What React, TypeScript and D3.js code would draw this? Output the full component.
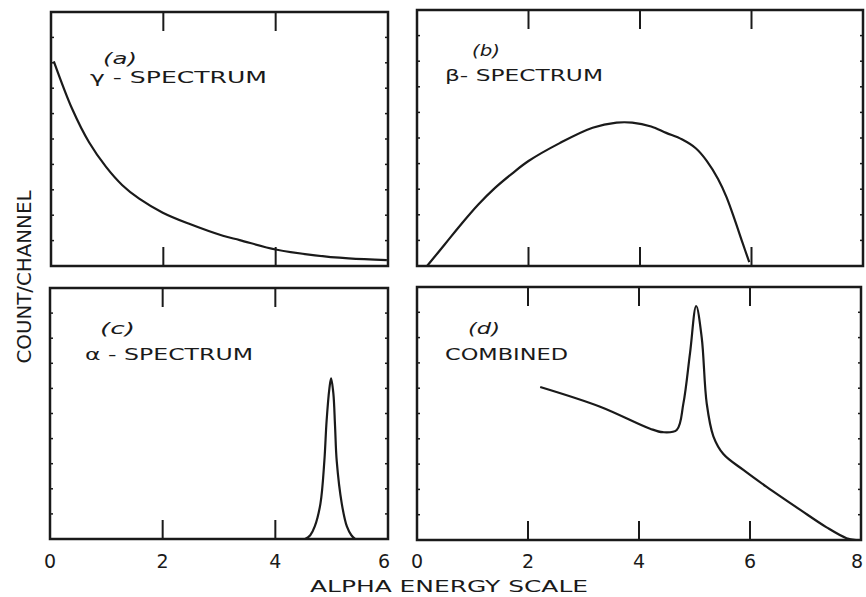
import React, { useEffect, useRef } from "react";
import * as d3 from "d3";

// values (x = alpha energy, y = % of panel height)
const gammaSpectrum: [number, number][] = [
  [0.05, 80.6], [0.38, 61.7], [0.68, 48.6], [0.98, 39], [1.27, 31.8],
  [1.57, 26.5], [1.99, 21], [2.46, 16.6], [3.06, 11.9], [3.36, 10.2],
  [4.0, 6.5], [4.7, 4.2], [5.3, 3], [5.98, 2.3],
];

const betaSpectrum: [number, number][] = [
  [0.18, 0], [0.5, 8.5], [0.8, 16.5], [1.1, 24], [1.4, 30.5], [1.7, 36],
  [2.0, 41], [2.56, 48], [3.15, 54], [3.58, 56], [3.86, 56], [4.2, 54.5],
  [4.47, 52], [4.75, 49.5], [5.0, 46], [5.2, 41], [5.4, 34], [5.55, 27],
  [5.7, 18], [5.84, 9], [5.96, 1.5],
];

const alphaSpectrum: [number, number][] = [
  [4.53, 0], [4.62, 1.5], [4.7, 5], [4.8, 14], [4.87, 31], [4.91, 47],
  [4.96, 60], [4.99, 64], [5.03, 58], [5.06, 45], [5.09, 31], [5.18, 14],
  [5.27, 5], [5.35, 1.5], [5.42, 0],
];

const combinedSpectrum: [number, number][] = [
  [2.22, 60.5], [3.3, 52.7], [4.2, 44], [4.43, 42.6], [4.68, 43.5],
  [4.8, 54], [4.92, 74], [5.03, 92.5], [5.13, 80], [5.22, 54], [5.34, 41],
  [5.52, 34], [5.88, 27.7], [6.3, 21], [6.9, 12], [7.38, 5], [7.74, 0.7],
  [7.91, 0],
];

const leftTicks = [0, 2, 4, 6];
const rightTicks = [0, 2, 4, 6, 8];

const panels = [
  { id: "a", data: gammaSpectrum, xMax: 6, box: [51, 12, 388, 266], tag: "(a)", name: "γ - SPECTRUM",
    tagPos: [103, 64, 34], namePos: [90, 83, 177], ticks: null },
  { id: "b", data: betaSpectrum, xMax: 8, box: [417, 10, 863, 266], tag: "(b)", name: "β- SPECTRUM",
    tagPos: [472, 56, 28], namePos: [445, 81, 158], ticks: null },
  { id: "c", data: alphaSpectrum, xMax: 6, box: [50, 288, 388, 539], tag: "(c)", name: "α - SPECTRUM",
    tagPos: [100, 334, 35], namePos: [85, 360, 168], ticks: leftTicks },
  { id: "d", data: combinedSpectrum, xMax: 8, box: [417, 287, 861, 540], tag: "(d)", name: "COMBINED",
    tagPos: [468, 334, 32], namePos: [445, 360, 123], ticks: rightTicks },
];

const font = "'DejaVu Sans', sans-serif";
const ink = "#1a1a1a";

function App() {
  const ref = useRef<SVGSVGElement>(null);

  useEffect(() => {
    const svg = d3.select(ref.current);
    svg.selectAll("*").remove();

    panels.forEach((p) => {
      const [x0, y0, x1, y1] = p.box;
      const x = d3.scaleLinear().domain([0, p.xMax]).range([x0, x1]);
      const y = d3.scaleLinear().domain([0, 100]).range([y1, y0]);
      const g = svg.append("g");

      // frame
      g.append("rect")
        .attr("x", x0).attr("y", y0)
        .attr("width", x1 - x0).attr("height", y1 - y0)
        .attr("fill", "none").attr("stroke", ink).attr("stroke-width", 2.5);

      // inward major ticks top & bottom
      const inner = d3.range(2, p.xMax, 2);
      g.selectAll(".tb")
        .data(inner)
        .join("line")
        .attr("x1", (d) => x(d)).attr("x2", (d) => x(d))
        .attr("y1", y1).attr("y2", y1 - 19)
        .attr("stroke", ink).attr("stroke-width", 2);
      g.selectAll(".tt")
        .data(inner)
        .join("line")
        .attr("x1", (d) => x(d)).attr("x2", (d) => x(d))
        .attr("y1", y0).attr("y2", y0 + 19)
        .attr("stroke", ink).attr("stroke-width", 2);

      // small ticks on the side borders
      const yt = y.ticks(10).slice(1, -1);
      g.selectAll(".yl")
        .data(yt)
        .join("line")
        .attr("x1", x0).attr("x2", x0 + 3)
        .attr("y1", (d) => y(d)).attr("y2", (d) => y(d))
        .attr("stroke", ink).attr("stroke-width", 1.5);
      g.selectAll(".yr")
        .data(yt)
        .join("line")
        .attr("x1", x1).attr("x2", x1 - 3)
        .attr("y1", (d) => y(d)).attr("y2", (d) => y(d))
        .attr("stroke", ink).attr("stroke-width", 1.5);

      // spectrum curve
      const line = d3
        .line<[number, number]>()
        .x((d) => x(d[0]))
        .y((d) => y(d[1]))
        .curve(d3.curveCatmullRom.alpha(0.5));
      g.append("path")
        .attr("d", line(p.data))
        .attr("fill", "none")
        .attr("stroke", ink)
        .attr("stroke-width", 2.2);

      // tick labels under the bottom row
      if (p.ticks) {
        g.selectAll(".tl")
          .data(p.ticks)
          .join("text")
          .attr("x", (d) => x(d) - (d === p.xMax ? 4 : 0))
          .attr("y", 568)
          .attr("text-anchor", "middle")
          .attr("font-family", font)
          .attr("font-size", 19)
          .attr("fill", ink)
          .text((d) => d);
      }

      // panel captions
      g.append("text")
        .attr("x", p.tagPos[0]).attr("y", p.tagPos[1])
        .attr("textLength", p.tagPos[2]).attr("lengthAdjust", "spacingAndGlyphs")
        .attr("font-family", font).attr("font-size", 16)
        .attr("font-style", "italic").attr("fill", ink)
        .text(p.tag);
      g.append("text")
        .attr("x", p.namePos[0]).attr("y", p.namePos[1])
        .attr("textLength", p.namePos[2]).attr("lengthAdjust", "spacingAndGlyphs")
        .attr("font-family", font).attr("font-size", 15)
        .attr("fill", ink)
        .text(p.name);
    });

    // axis titles
    svg.append("text")
      .attr("x", 310).attr("y", 592)
      .attr("textLength", 278).attr("lengthAdjust", "spacingAndGlyphs")
      .attr("font-family", font).attr("font-size", 16)
      .attr("fill", ink)
      .text("ALPHA ENERGY SCALE");

    svg.append("text")
      .attr("transform", "translate(31,277) rotate(-90)")
      .attr("text-anchor", "middle")
      .attr("textLength", 173).attr("lengthAdjust", "spacingAndGlyphs")
      .attr("font-family", font).attr("font-size", 19)
      .attr("fill", ink)
      .text("COUNT/CHANNEL");
  }, []);

  return (
    <svg
      ref={ref}
      width={866}
      height={597}
      style={{ position: "absolute", left: 0, top: 0, background: "#fff" }}
    />
  );
}

export default App;
